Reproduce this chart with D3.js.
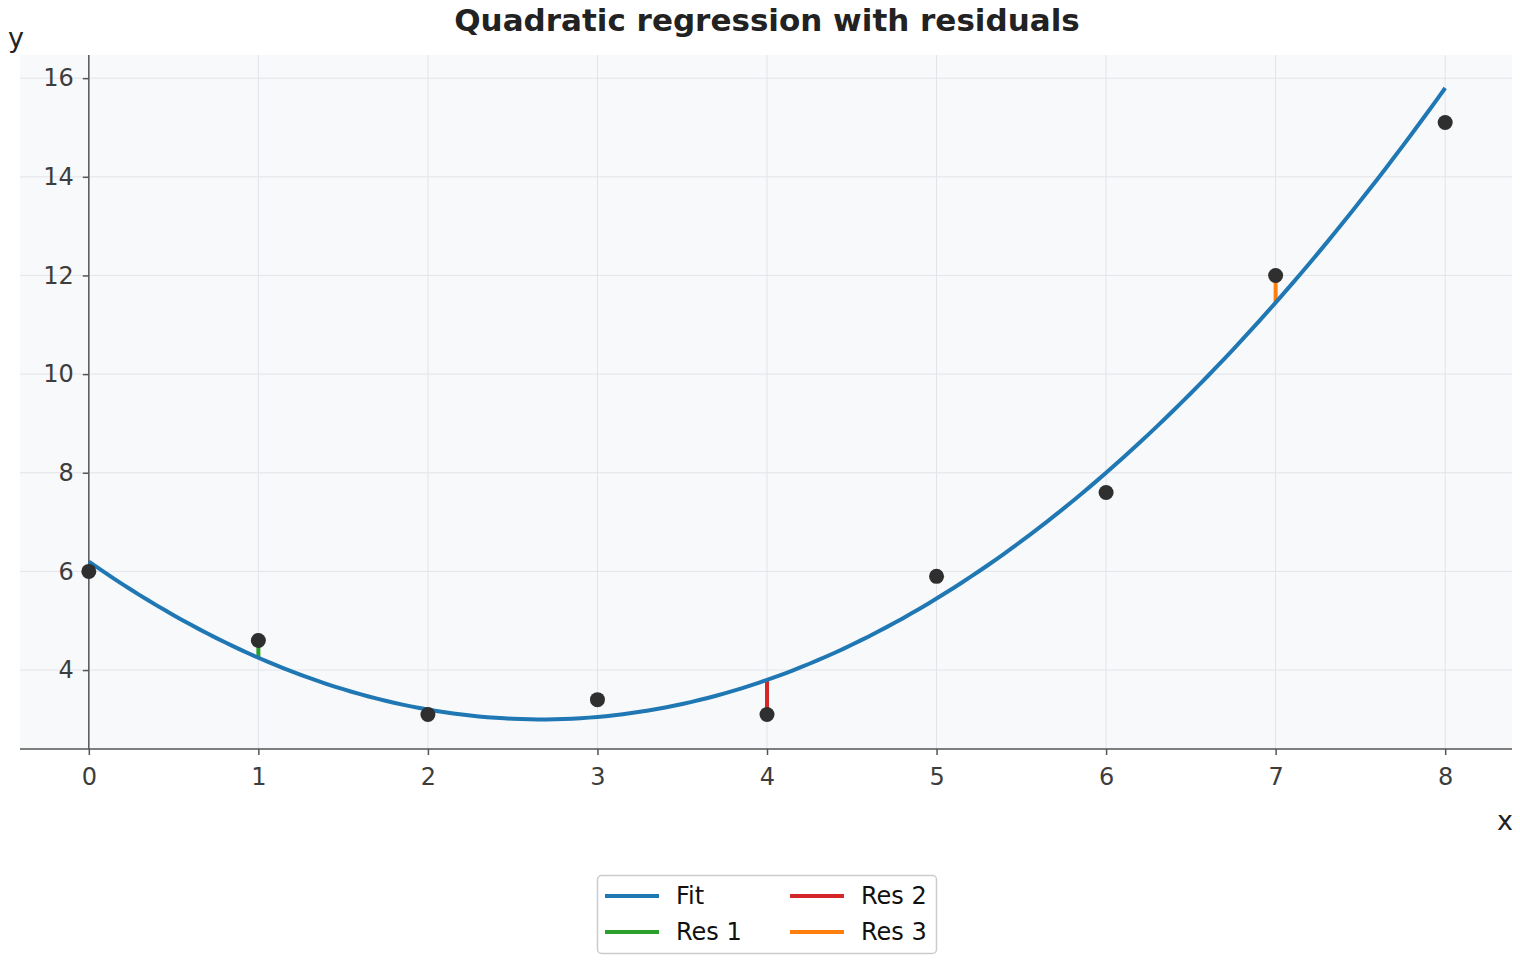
<!DOCTYPE html>
<html>
<head>
<meta charset="utf-8">
<script src="https://cdn.jsdelivr.net/npm/d3@7"></script>
<style>
  body { margin: 0; background: #fff; }
  svg { font-family: "DejaVu Sans", sans-serif; }
</style>
</head>
<body>
<script>
// observed points
var xs = [0, 1, 2, 3, 4, 5, 6, 7, 8];
var ys = [6.0, 4.6, 3.1, 3.4, 3.1, 5.9, 7.6, 12.0, 15.1];
// fitted quadratic y = a x^2 + b x + c
var coef = [0.45, -2.4, 6.2];
// residuals highlighted
var resX = [1, 4, 7];
var resNames = ["Res 1", "Res 2", "Res 3"];
var resColors = ["#2ca02c", "#d62728", "#ff7f0e"];
var xTicks = [0, 1, 2, 3, 4, 5, 6, 7, 8];
var yTicks = [4, 6, 8, 10, 12, 14, 16];

var w = 1520, h = 960;
var fit = function(x) { return coef[0] * x * x + coef[1] * x + coef[2]; };

var svg = d3.select("body").append("svg").attr("width", w).attr("height", h);

var x = d3.scaleLinear().domain([-0.4, 8.4]).range([21, 1513]);
var y = d3.scaleLinear().domain([2.4, 16.5]).range([749, 53.5]);

// plot background
svg.append("rect").attr("x", 20).attr("y", 55).attr("width", 1492).attr("height", 694)
  .attr("fill", "#f8f9fa");

// grid
svg.append("g").selectAll("line").data(xTicks).enter().append("line")
  .attr("x1", d => x(d)).attr("x2", d => x(d)).attr("y1", 55).attr("y2", 749)
  .attr("stroke", "#e3e3ea").attr("stroke-width", 1);
svg.append("g").selectAll("line").data(yTicks).enter().append("line")
  .attr("x1", 20).attr("x2", 1512).attr("y1", d => y(d)).attr("y2", d => y(d))
  .attr("stroke", "#e3e3ea").attr("stroke-width", 1);

// axes
var xAxis = svg.append("g").attr("transform", "translate(0,749)")
  .call(d3.axisBottom(x).tickValues(xTicks).tickSize(6).tickPadding(13).tickFormat(d3.format("d")));
var yAxis = svg.append("g").attr("transform", "translate(" + x(0) + ",0)")
  .call(d3.axisLeft(y).tickValues(yTicks).tickSize(6).tickPadding(9).tickFormat(d3.format("d")));
[xAxis, yAxis].forEach(function(g) {
  g.select(".domain").remove();
  g.selectAll(".tick line").attr("stroke", "#555").attr("stroke-width", 1.5);
  g.selectAll(".tick text").attr("fill", "#3d3d3d").style("font-size", "24px")
    .style("font-family", "DejaVu Sans");
});
svg.append("line").attr("x1", x(0)).attr("x2", x(0)).attr("y1", 55).attr("y2", 749)
  .attr("stroke", "#555").attr("stroke-width", 1.5);
svg.append("line").attr("x1", 20).attr("x2", 1512).attr("y1", 749).attr("y2", 749)
  .attr("stroke", "#555").attr("stroke-width", 1.5);

// residual segments
svg.append("g").selectAll("line").data(resX).enter().append("line")
  .attr("x1", d => x(d)).attr("x2", d => x(d))
  .attr("y1", d => y(ys[xs.indexOf(d)])).attr("y2", d => y(fit(d)))
  .attr("stroke", (d, i) => resColors[i]).attr("stroke-width", 4);

// fit curve
var curvePts = d3.range(0, 8.0001, 0.05).map(v => [v, fit(v)]);
svg.append("path").datum(curvePts)
  .attr("d", d3.line().x(d => x(d[0])).y(d => y(d[1])))
  .attr("fill", "none").attr("stroke", "#1f77b4").attr("stroke-width", 4);

// points
svg.append("g").selectAll("circle").data(xs).enter().append("circle")
  .attr("cx", d => x(d)).attr("cy", (d, i) => y(ys[i])).attr("r", 7.5)
  .attr("fill", "#2f2f2f");

// title and labels
svg.append("text").attr("x", 767).attr("y", 31).attr("text-anchor", "middle")
  .style("font-size", "31px").style("font-weight", "bold").attr("fill", "#222")
  .text("Quadratic regression with residuals");
svg.append("text").attr("x", 16).attr("y", 47).attr("text-anchor", "middle")
  .style("font-size", "27px").attr("fill", "#222").text("y");
svg.append("text").attr("x", 1505).attr("y", 830).attr("text-anchor", "middle")
  .style("font-size", "27px").attr("fill", "#222").text("x");

// legend
var legItems = [{name: "Fit", color: "#1f77b4"}].concat(resNames.map((n, i) => ({name: n, color: resColors[i]})));
var leg = svg.append("g");
leg.append("rect").attr("x", 597.5).attr("y", 875.5).attr("width", 339).attr("height", 78)
  .attr("rx", 4).attr("fill", "#fff").attr("stroke", "#cccccc").attr("stroke-width", 1.5);
var colX = [605, 790], rowY = [896, 932];
legItems.forEach(function(it, i) {
  var cx = colX[i < 2 ? 0 : 1], cy = rowY[i % 2];
  leg.append("line").attr("x1", cx).attr("x2", cx + 54).attr("y1", cy).attr("y2", cy)
    .attr("stroke", it.color).attr("stroke-width", 4);
  leg.append("text").attr("x", cx + 71).attr("y", cy + 8).style("font-size", "24px")
    .attr("fill", "#111").text(it.name);
});
</script>
</body>
</html>
